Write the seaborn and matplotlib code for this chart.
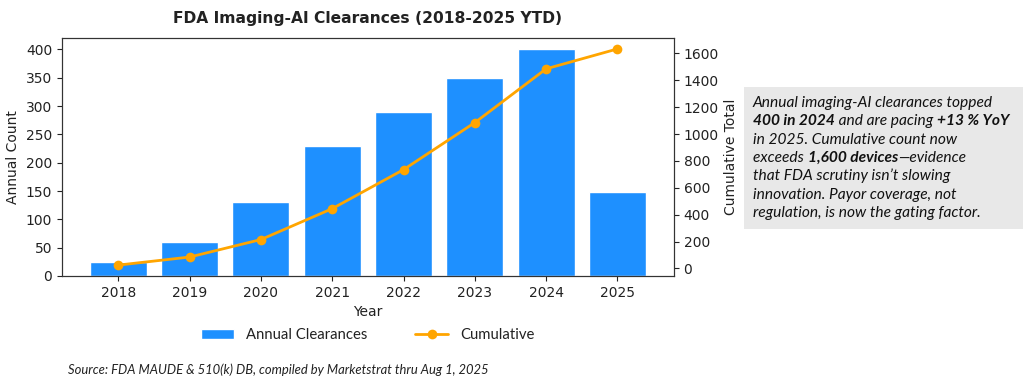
import numpy as np
import pandas as pd
import matplotlib
matplotlib.use('Agg')
import matplotlib.pyplot as plt
import seaborn as sns
from matplotlib.patches import Rectangle
from matplotlib.ticker import MultipleLocator

# Data
years = ['2018', '2019', '2020', '2021', '2022', '2023', '2024', '2025']
annual = [25, 60, 130, 230, 290, 350, 400, 148]
cumulative = list(np.cumsum(annual))

df = pd.DataFrame({'Year': years, 'Annual': annual, 'Cumulative': cumulative})

sns.set_style('ticks')
plt.rcParams['font.family'] = ['DejaVu Sans']
plt.rcParams['text.color'] = '#222222'
plt.rcParams['axes.labelcolor'] = '#222222'
plt.rcParams['xtick.color'] = '#222222'
plt.rcParams['ytick.color'] = '#222222'

side_font = 'Lato'

fig = plt.figure(figsize=(10.24, 3.86), dpi=100)
ax = fig.add_axes([0.0605, 0.285, 0.5975, 0.6165])
renderer = fig.canvas.get_renderer()


def text_width(parts, style='italic', size=10):
    # total pixel width of a run of (text, bold) parts
    w = 0
    for txt, bold in parts:
        t = fig.text(0, 0, txt, family=side_font, style=style,
                     fontweight='bold' if bold else 'normal', fontsize=size)
        w += t.get_window_extent(renderer=renderer).width
        t.remove()
    return w


def fit_size(txt, target_px, style='italic'):
    return 10 * target_px / text_width([(txt, False)], style=style)


sns.barplot(data=df, x='Year', y='Annual', color='#1E90FF', saturation=1,
            width=0.8, ax=ax, label='Annual Clearances')
ax.set_xlim(-0.79, 7.79)
ax.set_ylim(0, 420)
ax.yaxis.set_major_locator(MultipleLocator(50))
ax.set_ylabel('Annual Count', fontsize=10)
ax.set_xlabel('Year', fontsize=10)
ax.tick_params(labelsize=10)

ax2 = ax.twinx()
sns.lineplot(data=df, x='Year', y='Cumulative', color='#FFA500', marker='o',
             markersize=7, markeredgewidth=0, linewidth=2, ax=ax2, label='Cumulative')
ax2.set_ylim(-56, 1714)
ax2.yaxis.set_major_locator(MultipleLocator(200))
ax2.set_ylabel('Cumulative Total', fontsize=10)
ax2.tick_params(labelsize=10)
ax2.get_legend().remove()

for a in (ax, ax2):
    for s in a.spines.values():
        s.set_visible(True)
        s.set_color('#333333')

ax.set_title('FDA Imaging-AI Clearances (2018-2025 YTD)', fontsize=11.2,
             fontweight='bold', pad=11)

# legend below the axes
leg_size = fit_size('Annual Clearances', 121, style='normal')
h1, l1 = ax.get_legend_handles_labels()
h2, l2 = ax2.get_legend_handles_labels()
ax.legend(h1 + h2, l1 + l2, loc='center', bbox_to_anchor=(0.5, -0.25),
          ncol=2, frameon=False, prop={'family': side_font, 'size': leg_size},
          handlelength=2.2, columnspacing=3.2)

src = 'Source: FDA MAUDE & 510(k) DB, compiled by Marketstrat thru Aug 1, 2025'
fig.text(68 / 1024, 1 - 370 / 386, src, family=side_font, style='italic',
         fontsize=fit_size(src, 422), va='center', ha='left')

# commentary box
fig.patches.append(Rectangle((744 / 1024, 1 - 229 / 386), 279 / 1024, 142 / 386,
                             transform=fig.transFigure, facecolor='#E8E8E8',
                             edgecolor='none', zorder=0))

lines = [
    [('Annual imaging-AI clearances topped', False)],
    [('400 in 2024', True), (' and are pacing ', False), ('+13 % YoY', True)],
    [('in 2025. Cumulative count now', False)],
    [('exceeds ', False), ('1,600 devices', True), ('\u2014evidence', False)],
    [('that FDA scrutiny isn\u2019t slowing', False)],
    [('innovation. Payor coverage, not', False)],
    [('regulation, is now the gating factor.', False)],
]

box_size = min(10 * 253 / text_width(lines[0]), 10 * 255 / text_width(lines[1]))
x0 = 753
for i, parts in enumerate(lines):
    y = 386 - (107 + i * 18.3)
    x = x0
    for txt, bold in parts:
        t = fig.text(x / 1024, y / 386, txt, family=side_font, style='italic',
                     fontweight='bold' if bold else 'normal', fontsize=box_size,
                     va='baseline', ha='left', color='#111111')
        bb = t.get_window_extent(renderer=renderer)
        x = bb.x1

fig.savefig('out.png', dpi=100)
